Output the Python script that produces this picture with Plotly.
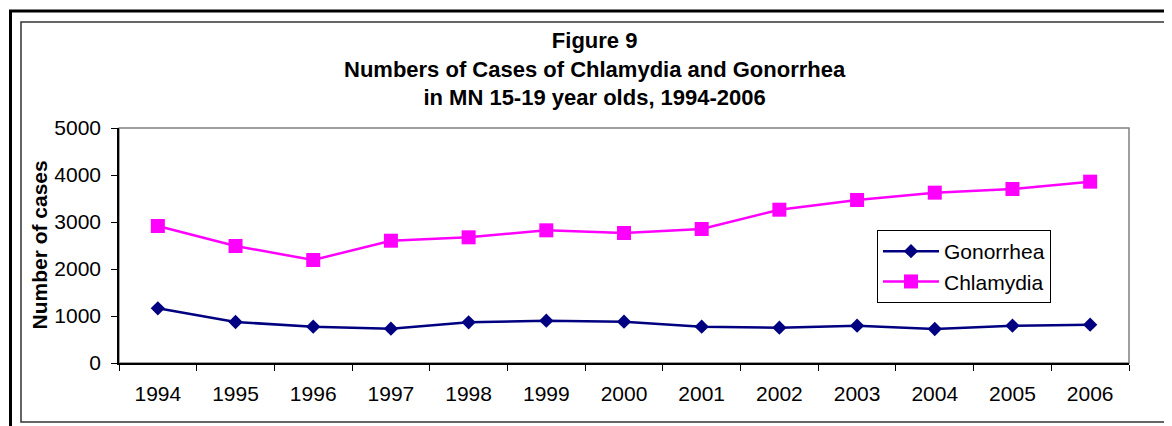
import plotly.graph_objects as go

years = ["1994", "1995", "1996", "1997", "1998", "1999", "2000",
         "2001", "2002", "2003", "2004", "2005", "2006"]
gonorrhea = [1163, 872, 773, 730, 866, 900, 879, 773, 752, 794, 723, 794, 815]
chlamydia = [2915, 2489, 2191, 2602, 2674, 2823, 2766, 2851, 3262, 3468, 3624, 3702, 3858]
y_ticks = [0, 1000, 2000, 3000, 4000, 5000]

title_lines = ["Figure 9", "Numbers of Cases of Chlamydia and Gonorrhea",
               "in MN 15-19 year olds, 1994-2006"]

FONT = "Arial, Liberation Sans, Helvetica, sans-serif"

# The page body has an 8px margin, so the figure is offset by 8px.
OFF = 8
FIG_W, FIG_H = 1172 - OFF, 426 - OFF
# page-pixel geometry of the plot area
L, R, T, B = 119, 1129, 128, 363
W, H = R - L, B - T
def px(x):
    return (x - L) / W
def py(y):
    return (B - y) / H

fig = go.Figure()
fig.add_trace(go.Scatter(
    x=years, y=gonorrhea, name="Gonorrhea", mode="lines+markers",
    line=dict(color="#000080", width=2.5),
    marker=dict(symbol="diamond", size=11, color="#000080"),
))
fig.add_trace(go.Scatter(
    x=years, y=chlamydia, name="Chlamydia", mode="lines+markers",
    line=dict(color="#FF00FF", width=2.5),
    marker=dict(symbol="square", size=14, color="#FF00FF"),
))

fig.update_layout(
    width=FIG_W, height=FIG_H,
    margin=dict(l=L - OFF, r=1172 - R, t=T - OFF, b=426 - B),
    paper_bgcolor="white", plot_bgcolor="white",
    font=dict(family=FONT, size=21, color="black"),
    showlegend=True,
    legend=dict(
        x=px(877), y=py(230), xanchor="left", yanchor="top",
        bgcolor="white", bordercolor="black", borderwidth=1,
        itemwidth=56, tracegroupgap=0,
        font=dict(family=FONT, size=21, color="black"),
    ),
    xaxis=dict(
        type="category", range=[-0.5, len(years) - 0.5],
        tickson="boundaries", ticks="outside", ticklen=6, tickwidth=1,
        tickcolor="black", showline=True, linecolor="black", linewidth=1.5,
        showgrid=False, zeroline=False, fixedrange=True,
        tickfont=dict(size=21), ticklabelstandoff=11,
    ),
    yaxis=dict(
        range=[0, 5000], tickvals=y_ticks, ticks="outside", ticklen=6,
        tickwidth=1, tickcolor="black", showline=True, linecolor="black",
        linewidth=1.5, showgrid=False, zeroline=False, fixedrange=True,
        tickfont=dict(size=21), ticklabelstandoff=6,
    ),
    shapes=[
        # outer thick frame
        dict(type="rect", xref="paper", yref="paper",
             x0=px(10.5), x1=px(1190), y0=py(445), y1=py(11),
             line=dict(color="black", width=3), layer="below"),
        # inner thin frame
        dict(type="rect", xref="paper", yref="paper",
             x0=px(21), x1=px(1169), y0=py(422), y1=py(22),
             line=dict(color="#333333", width=1.5), layer="below"),
        # plot area border (gray)
        dict(type="rect", xref="paper", yref="paper",
             x0=0, x1=1, y0=0, y1=1,
             line=dict(color="#808080", width=1.5), layer="below"),
    ],
    annotations=[
        dict(text="<br>".join(title_lines), xref="paper", yref="paper",
             x=px(594.5), y=py(69), xanchor="center", yanchor="middle",
             showarrow=False, align="center",
             font=dict(family=FONT, size=22, color="black", weight="bold")),
        dict(text="Number of cases", xref="paper", yref="paper",
             x=px(39), y=0.5, xanchor="center", yanchor="middle",
             textangle=-90, showarrow=False,
             font=dict(family=FONT, size=21, color="black", weight="bold")),
    ],
)

fig.write_html("out.html")
